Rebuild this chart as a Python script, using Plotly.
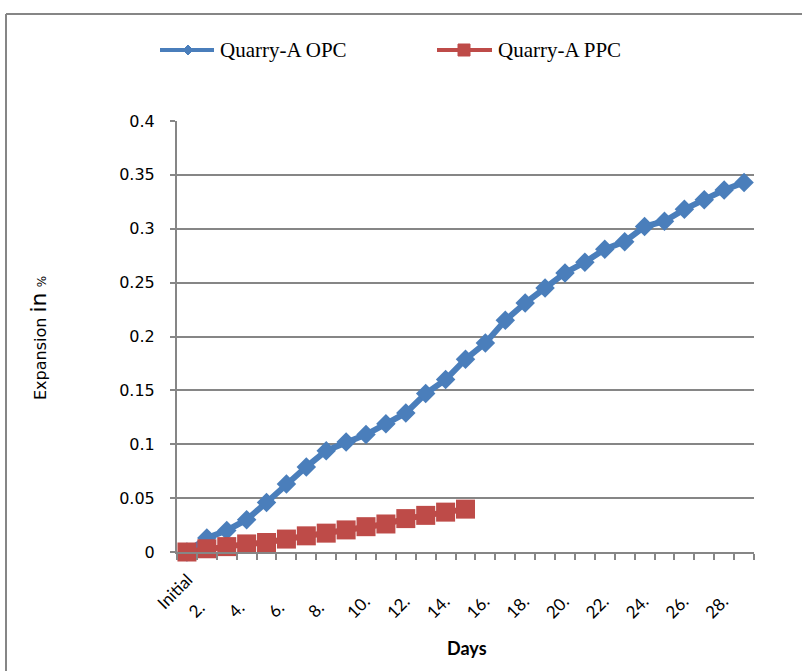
import plotly.graph_objects as go

categories = ["Initial"] + [f"{i}." for i in range(1, 29)]
tick_labels = [c if i % 2 == 0 else "" for i, c in enumerate(categories)]

opc_values = [0.0, 0.013, 0.020, 0.030, 0.046, 0.063, 0.079, 0.094, 0.102, 0.109,
              0.119, 0.129, 0.147, 0.160, 0.179, 0.194, 0.215, 0.231, 0.245, 0.259,
              0.269, 0.281, 0.288, 0.302, 0.307, 0.318, 0.327, 0.336, 0.343]
ppc_values = [0.0, 0.003, 0.005, 0.0075, 0.0088, 0.012, 0.015, 0.0175, 0.0205, 0.0235,
              0.026, 0.031, 0.034, 0.037, 0.0398]

series_names = ["Quarry-A OPC", "Quarry-A PPC"]
BLUE = "#4a7ebb"
RED = "#be4b48"
GRAY = "#868686"
NBSP = "\u00a0"

W, H = 802, 671
L, R, T, B = 177, 48, 121, 119
PW, PH = W - L - R, H - T - B


def px2paper(x, y):
    return (x - L) / PW, (H - B - y) / PH


# Excel-style rotated labels sit further from the axis; emulate with trailing padding
def pad_label(s):
    if not s:
        return s
    if s == "Initial":
        return s + NBSP * 3
    return s + NBSP * (12 if len(s) == 2 else 10)


shown_ticktext = [pad_label(t) for t in tick_labels]

fig = go.Figure()
fig.add_trace(go.Scatter(
    x=categories, y=opc_values, name=series_names[0], mode="lines+markers",
    line=dict(color=BLUE, width=6),
    marker=dict(symbol="diamond", size=15, color=BLUE),
    cliponaxis=False, showlegend=False))
fig.add_trace(go.Scatter(
    x=categories[:len(ppc_values)], y=ppc_values, name=series_names[1], mode="lines+markers",
    line=dict(color=RED, width=6),
    marker=dict(symbol="square", size=19, color=RED),
    cliponaxis=False, showlegend=False))

shapes = []
# outer frame (top and left edges visible)
x0, y0 = px2paper(6, 14)
x1, y1 = px2paper(W + 20, H + 20)
shapes.append(dict(type="line", xref="paper", yref="paper", x0=x0, x1=x0, y0=y0, y1=y1,
                   line=dict(color=GRAY, width=2)))
shapes.append(dict(type="line", xref="paper", yref="paper", x0=x0, x1=x1, y0=y0, y1=y0,
                   line=dict(color=GRAY, width=2)))

annotations = []
# manual legend
legend_items = [
    (series_names[0], BLUE, 160, 214, 188, "diamond", 218),
    (series_names[1], RED, 437, 492, 464, "square", 496),
]
ly = 50
for name, col, lx0, lx1, mx, sym, tx in legend_items:
    a0, b0 = px2paper(lx0, ly)
    a1, _ = px2paper(lx1, ly)
    shapes.append(dict(type="line", xref="paper", yref="paper", x0=a0, x1=a1, y0=b0, y1=b0,
                       line=dict(color=col, width=4)))
    am, bm = px2paper(mx, ly)
    if sym == "diamond":
        shapes.append(dict(type="path", xref="paper", yref="paper", xsizemode="pixel",
                           ysizemode="pixel", xanchor=am, yanchor=bm,
                           path="M -5 0 L 0 5 L 5 0 L 0 -5 Z",
                           fillcolor=col, line=dict(color=col, width=1)))
    else:
        shapes.append(dict(type="rect", xref="paper", yref="paper", xsizemode="pixel",
                           ysizemode="pixel", xanchor=am, yanchor=bm,
                           x0=-6, x1=6, y0=-6, y1=6,
                           fillcolor=col, line=dict(color=col, width=1)))
    at, bt = px2paper(tx, ly)
    annotations.append(dict(text=name, xref="paper", yref="paper", x=at, y=bt,
                            xanchor="left", yanchor="middle", showarrow=False,
                            font=dict(family="Liberation Serif", size=21, color="black")))

# axis titles
ax, ay = px2paper(38, 338)
annotations.append(dict(
    text="Expansion <span style='font-size:22px'>in</span> <span style='font-size:12px'>%</span>",
    xref="paper", yref="paper", x=ax, y=ay, xanchor="center", yanchor="middle",
    textangle=-90, showarrow=False,
    font=dict(family="DejaVu Sans", size=16, color="black")))
dx, dy = px2paper(467, 648)
annotations.append(dict(text="<b>Days</b>", xref="paper", yref="paper", x=dx, y=dy,
                        xanchor="center", yanchor="middle", showarrow=False,
                        font=dict(family="Lato", size=18, color="black")))

fig.update_layout(
    width=W, height=H,
    margin=dict(l=L, r=R, t=T, b=B, pad=0),
    paper_bgcolor="white", plot_bgcolor="white",
    shapes=shapes, annotations=annotations,
    xaxis=dict(
        type="category", categoryorder="array", categoryarray=categories,
        tickmode="array", tickvals=categories, ticktext=shown_ticktext,
        tickson="boundaries", ticks="outside", ticklen=6, tickcolor=GRAY, tickwidth=1.5,
        tickangle=-45, ticklabelstandoff=0, ticklabelshift=10,
        showgrid=False, showline=True, linecolor=GRAY, linewidth=2,
        tickfont=dict(family="Lato", size=17, color="black"),
        range=[-0.5, len(categories) - 0.5], zeroline=False),
    yaxis=dict(
        range=[0, 0.4], tick0=0, dtick=0.05, tickformat="~g",
        ticks="outside", ticklen=5, tickcolor=GRAY, tickwidth=1.5,
        ticklabelstandoff=12,
        showgrid=True, gridcolor=GRAY, gridwidth=1.5,
        showline=True, linecolor=GRAY, linewidth=2, zeroline=False,
        tickfont=dict(family="DejaVu Sans", size=16, color="black")),
)

fig.write_html("out.html", config={"displayModeBar": False},
               post_script="document.body.style.margin='0';")
